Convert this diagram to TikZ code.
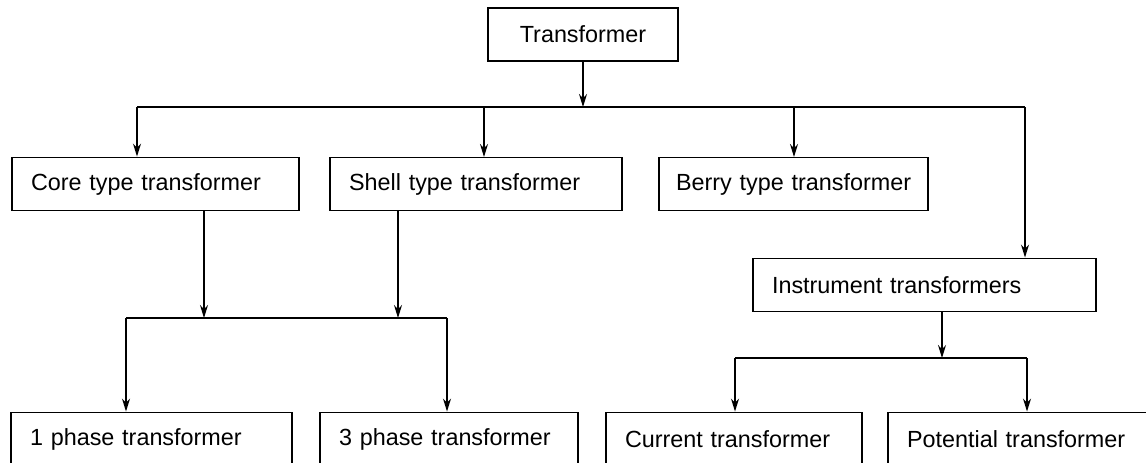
\documentclass[tikz,border=0pt]{standalone}
\usepackage{fontspec}
\setmainfont{Liberation Sans}
\usetikzlibrary{arrows.meta}

\begin{document}
\begin{tikzpicture}[
  x=0.02cm, y=-0.02cm,
  line width=0.8pt,
  box/.style={draw, minimum height=1.07cm, inner xsep=0.38cm, align=left, font=\fontsize{13.3}{15}\selectfont},
  topbox/.style={draw, minimum width=3.8cm, minimum height=1.06cm, font=\fontsize{13.3}{15}\selectfont},
  arr/.style={-{Stealth[length=0.26cm, width=0.16cm]}},
]
\useasboundingbox (0,0) rectangle (1146,463);
\clip (0,0) rectangle (1146,463);
% boxes
\node[topbox] (top) at (583,34.5) {Transformer};
\node[box, text width=4.98cm] (core) at (155.5,184) {\mbox{Core type transformer}};
\node[box, text width=5.08cm] (shell) at (476,184) {\mbox{Shell type transformer}};
\node[box, inner xsep=0.34cm, text width=4.70cm] (berry) at (793.5,184) {\mbox{Berry type transformer}};
\node[box, text width=6.10cm] (instr) at (924.5,285) {\mbox{Instrument transformers}};
\node[box, text width=4.86cm] (one) at (151.5,439) {\mbox{1 phase transformer}};
\node[box, text width=4.40cm] (three) at (449,439) {\mbox{3 phase transformer}};
\node[box, text width=4.36cm] (current) at (734,439) {\mbox{Current transformer}};
\node[box, text width=5.08cm] (potential) at (1034,439) {\mbox{Potential transformer}};
% first bus
\coordinate (b1) at (583,107);
\coordinate (b1l) at (137,107);
\coordinate (b1r) at (1025,107);
\draw[arr] (top) -- (b1);
\draw (b1l) -- (b1r);
\draw[arr] (b1l) -- (b1l |- core.north);
\draw[arr] (b1 -| 484,0) -- (484,157);
\draw[arr] (b1 -| 794,0) -- (794,157);
\draw[arr] (b1r) -- (b1r |- instr.north);
% second bus
\coordinate (b2l) at (126,318);
\coordinate (b2r) at (447,318);
\draw[arr] (core.south -| 204,0) -- (204,318);
\draw[arr] (shell.south -| 398,0) -- (398,318);
\draw (b2l) -- (b2r);
\draw[arr] (b2l) -- (b2l |- one.north);
\draw[arr] (b2r) -- (b2r |- three.north);
% third bus
\coordinate (b3l) at (735,358);
\coordinate (b3r) at (1027,358);
\draw[arr] (instr.south -| 942,0) -- (942,358);
\draw (b3l) -- (b3r);
\draw[arr] (b3l) -- (b3l |- current.north);
\draw[arr] (b3r) -- (b3r |- potential.north);
\end{tikzpicture}
\end{document}
